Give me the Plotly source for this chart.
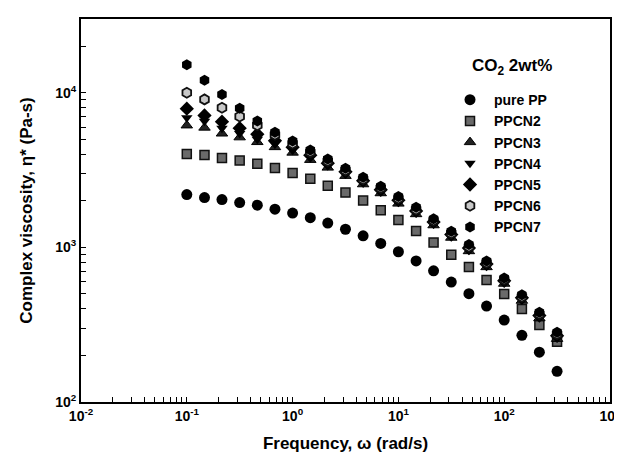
import numpy as np
import plotly.graph_objects as go

# Frequencies (rad/s): 0.1 .. 316, six points per decade
freq = [0.1, 0.147, 0.215, 0.316, 0.464, 0.681, 1.0, 1.47, 2.15, 3.16, 4.64, 6.81,
        10.0, 14.7, 21.5, 31.6, 46.4, 68.1, 100.0, 147.0, 215.0, 316.0]

pure_pp = [2197, 2099, 2037, 1950, 1875, 1767, 1666, 1556, 1437, 1310, 1187, 1061,
           937, 817, 705, 597, 502, 417, 339, 270, 210, 158]
ppcn2 = [4018, 3960, 3790, 3646, 3470, 3258, 3026, 2782, 2508, 2262, 2009, 1741,
         1502, 1277, 1076, 897, 748, 615, 500, 400, 315, 245]
ppcn3 = [6150, 5950, 5450, 5150, 4800, 4450, 4100, 3680, 3280, 2900, 2560, 2240,
         1920, 1640, 1390, 1155, 945, 745, 582, 452, 348, 256]
ppcn4 = [6900, 6550, 5900, 5450, 5000, 4650, 4250, 3800, 3380, 2980, 2620, 2300,
         1970, 1680, 1420, 1180, 965, 762, 595, 462, 355, 262]
ppcn5 = [7890, 7140, 6500, 5900, 5400, 4900, 4450, 3950, 3500, 3080, 2700, 2360,
         2020, 1720, 1460, 1210, 990, 780, 608, 472, 362, 268]
ppcn6 = [10000, 9060, 8010, 7020, 6170, 5350, 4700, 4130, 3620, 3150, 2760, 2420,
         2070, 1760, 1490, 1235, 1010, 795, 620, 480, 370, 275]
ppcn7 = [15200, 12050, 9750, 7930, 6570, 5560, 4880, 4270, 3730, 3250, 2840, 2490,
         2130, 1815, 1530, 1270, 1043, 817, 635, 494, 380, 283]

series_names = ["pure PP", "PPCN2", "PPCN3", "PPCN4", "PPCN5", "PPCN6", "PPCN7"]
series_values = [pure_pp, ppcn2, ppcn3, ppcn4, ppcn5, ppcn6, ppcn7]

styles = [
    dict(symbol="circle", size=11, color="black", line=dict(color="black", width=0)),
    dict(symbol="square", size=9, color="#6a6a6a", line=dict(color="#111", width=1.5)),
    dict(symbol="triangle-up", size=10, color="#222", line=dict(color="black", width=1)),
    dict(symbol="triangle-down", size=10, color="black", line=dict(color="black", width=0)),
    dict(symbol="diamond", size=11, color="black", line=dict(color="black", width=0)),
    dict(symbol="hexagon", size=10, color="#c8c8c8", line=dict(color="#111", width=1.8)),
    dict(symbol="hexagon", size=11, color="black", line=dict(color="black", width=0)),
]

x_decades = [-2, -1, 0, 1, 2, 3]
y_decades = [2, 3, 4]

FONT = "Liberation Sans, Arial, Helvetica, sans-serif"

fig = go.Figure()
for i in range(len(series_names)):
    fig.add_trace(go.Scatter(
        x=freq, y=series_values[i], mode="markers", name="<b>%s</b>" % series_names[i],
        marker=styles[i],
    ))

def log_ticks(decs, upper=None):
    vals, texts = [], []
    for d in decs:
        for m in range(1, 10):
            v = m * 10 ** d
            if upper is not None and v > upper * 1.0001:
                continue
            if d == decs[-1] and m > 1 and upper is None:
                continue
            vals.append(v)
            texts.append("<b>10<sup>%d</sup></b>" % d if m == 1 else "")
    return vals, texts

xv, xt = log_ticks(x_decades)
yv, yt = log_ticks(y_decades, upper=3e4)

axis_common = dict(
    showgrid=False, zeroline=False, showline=True, linecolor="black", linewidth=2,
    mirror=True, ticks="inside", ticklen=5, tickwidth=1.2, tickcolor="black",
    tickfont=dict(family=FONT, size=14, color="black"),
    ticklabeloverflow="allow",
)

fig.update_xaxes(type="log", range=[-2, 3], tickmode="array", tickvals=xv, ticktext=xt,
                 title=dict(text="<b>Frequency, ω (rad/s)</b>", font=dict(family=FONT, size=17, color="black"),
                            standoff=14),
                 **axis_common)
fig.update_yaxes(type="log", range=[2, np.log10(3e4)], tickmode="array", tickvals=yv, ticktext=yt,
                 title=dict(text="<b>Complex viscosity, η* (Pa-s)</b>", font=dict(family=FONT, size=17, color="black"),
                            standoff=18),
                 **axis_common)

fig.add_annotation(text="<b>CO<sub>2</sub> 2wt%</b>", xref="paper", yref="paper",
                   x=0.736, y=0.875, xanchor="left", yanchor="middle", showarrow=False,
                   font=dict(family=FONT, size=17, color="black"))

fig.update_layout(
    width=622, height=461,
    margin=dict(l=73, r=11, t=9, b=67),
    paper_bgcolor="white", plot_bgcolor="white",
    font=dict(family=FONT, color="black"),
    legend=dict(x=0.69, y=0.83, xanchor="left", yanchor="top", bgcolor="rgba(0,0,0,0)",
                font=dict(family=FONT, size=14, color="black"), tracegroupgap=0,
                itemsizing="trace", itemwidth=38),
)

fig.write_html("out.html")
